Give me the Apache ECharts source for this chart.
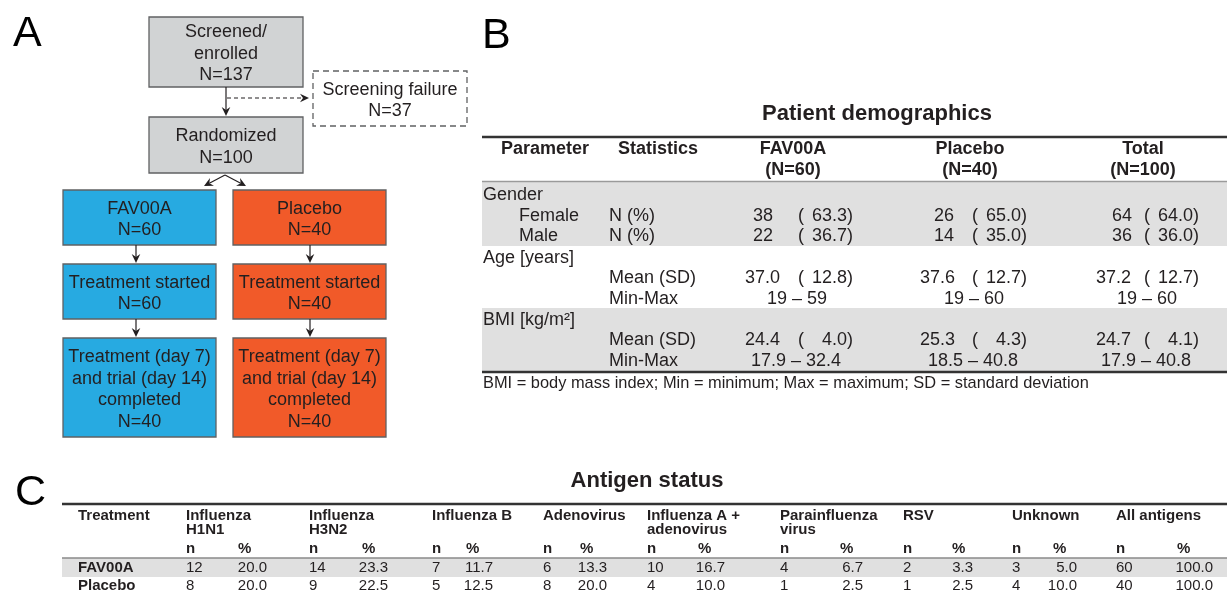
<!DOCTYPE html>
<html>
<head>
<meta charset="utf-8">
<script src="https://cdn.jsdelivr.net/npm/echarts@6/dist/echarts.min.js"></script>
<style>
  html, body { margin: 0; padding: 0; background: #fff; }
  #chart { width: 1227px; height: 594px; }
</style>
</head>
<body>
<div id="chart"></div>
<script>
// ---- data ----
// flow chart (panel A)
const screenedN = 137
const failureN = 37
const randomizedN = 100
const arms = ['FAV00A', 'Placebo']
const armRandomized = [60, 40]
const armStarted = [60, 40]
const armCompleted = [40, 40]

// demographics (panel B)
const demoGroups = ['FAV00A', 'Placebo', 'Total']
const demoN = [60, 40, 100]
const femaleN = [38, 26, 64]
const femalePct = [63.3, 65.0, 64.0]
const maleN = [22, 14, 36]
const malePct = [36.7, 35.0, 36.0]
const ageMean = [37.0, 37.6, 37.2]
const ageSD = [12.8, 12.7, 12.7]
const ageMin = [19, 19, 19]
const ageMax = [59, 60, 60]
const bmiMean = [24.4, 25.3, 24.7]
const bmiSD = [4.0, 4.3, 4.1]
const bmiMin = [17.9, 18.5, 17.9]
const bmiMax = [32.4, 40.8, 40.8]

// antigen status (panel C)
const antigens = [['Influenza', 'H1N1'], ['Influenza', 'H3N2'], ['Influenza B'], ['Adenovirus'],
  ['Influenza A +', 'adenovirus'], ['Parainfluenza', 'virus'], ['RSV'], ['Unknown'], ['All antigens']]
const treatments = ['FAV00A', 'Placebo']
const antigenN = [[12, 14, 7, 6, 10, 4, 2, 3, 60], [8, 9, 5, 8, 4, 1, 1, 4, 40]]
const antigenPct = [[20.0, 23.3, 11.7, 13.3, 16.7, 6.7, 3.3, 5.0, 100.0],
  [20.0, 22.5, 12.5, 20.0, 10.0, 2.5, 2.5, 10.0, 100.0]]

// ---- layout / style ----
const FF = '"Liberation Sans", Arial, Helvetica, sans-serif'
const INK = '#231f20'
const BORDER = '#606163'
const GRAY_BOX = '#d1d3d4'
const ARM_COLORS = ['#27aae1', '#f15a29']
const BAND = '#e0e0e0'

const els = []

function txt(x, y, s, opt) {
  opt = opt || {}
  const size = opt.size || 18
  const align = opt.align || 'center'
  els.push({
    type: 'text', x: x, y: y, silent: true,
    style: {
      text: s,
      font: (opt.bold ? 'bold ' : '') + size + 'px ' + FF,
      fill: opt.color || INK,
      align: align, textAlign: align,
      verticalAlign: 'middle', textVerticalAlign: 'middle'
    }
  })
}
function line(x1, y1, x2, y2, color, w, dash) {
  els.push({
    type: 'line', silent: true,
    shape: { x1: x1, y1: y1, x2: x2, y2: y2 },
    style: { stroke: color, lineWidth: w, lineDash: dash || null }
  })
}
function rect(x, y, w, h, fill, stroke, dash) {
  els.push({
    type: 'rect', silent: true,
    shape: { x: x, y: y, width: w, height: h },
    style: { fill: fill || 'transparent', stroke: stroke || null, lineWidth: stroke ? 1.3 : 0, lineDash: dash || null }
  })
}
// line with a notched (stealth) arrow head at (x2, y2)
function arrow(x1, y1, x2, y2, dash) {
  const ang = Math.atan2(y2 - y1, x2 - x1)
  const L = 9, hw = 4.3, notch = 6
  const cs = Math.cos(ang), sn = Math.sin(ang)
  const bx = x2 - L * cs, by = y2 - L * sn
  const nx = x2 - notch * cs, ny = y2 - notch * sn
  line(x1, y1, nx, ny, INK, 1.2, dash)
  els.push({
    type: 'polygon', silent: true,
    shape: { points: [[x2, y2],
      [bx + hw * sn, by - hw * cs],
      [nx, ny],
      [bx - hw * sn, by + hw * cs]] },
    style: { fill: INK }
  })
}
function box(x, y, w, h, lines, fill, dash) {
  rect(x, y, w, h, fill, BORDER, dash)
  const step = 21.5
  const cy = y + h / 2 + 2
  lines.forEach((s, i) => {
    txt(x + w / 2, cy + (i - (lines.length - 1) / 2) * step, s, { size: 18 })
  })
}

// ---- panel A: flow chart ----
txt(13, 34, 'A', { size: 43, align: 'left', color: '#000' })
box(149, 17, 154, 70, ['Screened/', 'enrolled', 'N=' + screenedN], GRAY_BOX)
box(313, 71, 154, 55, ['Screening failure', 'N=' + failureN], '#fff', [6, 4])
box(149, 117, 154, 56, ['Randomized', 'N=' + randomizedN], GRAY_BOX)
arrow(226, 87, 226, 116)
arrow(227, 98, 309, 98, [4, 3])
arrow(225, 175, 204, 186)
arrow(225, 175, 246, 186)

const armX = [63, 233]
const armArrowX = [136, 310]
arms.forEach((name, i) => {
  const x = armX[i], c = ARM_COLORS[i]
  box(x, 190, 153, 55, [name, 'N=' + armRandomized[i]], c)
  box(x, 264, 153, 55, ['Treatment started', 'N=' + armStarted[i]], c)
  box(x, 338, 153, 99, ['Treatment (day 7)', 'and trial (day 14)', 'completed', 'N=' + armCompleted[i]], c)
  arrow(armArrowX[i], 245, armArrowX[i], 263)
  arrow(armArrowX[i], 319, armArrowX[i], 337)
})

// ---- panel B: patient demographics ----
txt(482, 36, 'B', { size: 43, align: 'left', color: '#000' })
txt(877, 114, 'Patient demographics', { size: 22, bold: true })
rect(482, 182, 745, 64, BAND)
rect(482, 308, 745, 63, BAND)
line(482, 137, 1227, 137, '#333', 2.5)
line(482, 181.5, 1227, 181.5, '#9a9a9a', 1.5)
line(482, 372, 1227, 372, '#333', 2.5)

txt(545, 149, 'Parameter', { bold: true })
txt(658, 149, 'Statistics', { bold: true })
const grpCenter = [793, 970, 1143]
const grpNX = [753, 934, 1112]
const grpMeanX = [745, 920, 1096]
const grpParenX = [798, 972, 1144]
const grpEndX = [853, 1027, 1199]
demoGroups.forEach((g, i) => {
  txt(grpCenter[i], 149, g, { bold: true })
  txt(grpCenter[i], 170, '(N=' + demoN[i] + ')', { bold: true })
})

const rowY = { gender: 195, female: 216, male: 236, age: 258, ageMean: 278, ageRange: 299, bmi: 320, bmiMean: 340, bmiRange: 361 }
txt(483, rowY.gender, 'Gender', { align: 'left' })
txt(519, rowY.female, 'Female', { align: 'left' })
txt(519, rowY.male, 'Male', { align: 'left' })
txt(609, rowY.female, 'N (%)', { align: 'left' })
txt(609, rowY.male, 'N (%)', { align: 'left' })
txt(483, rowY.age, 'Age [years]', { align: 'left' })
txt(609, rowY.ageMean, 'Mean (SD)', { align: 'left' })
txt(609, rowY.ageRange, 'Min-Max', { align: 'left' })
txt(483, rowY.bmi, 'BMI [kg/m²]', { align: 'left' })
txt(609, rowY.bmiMean, 'Mean (SD)', { align: 'left' })
txt(609, rowY.bmiRange, 'Min-Max', { align: 'left' })

function countPct(i, y, n, p) {
  txt(grpNX[i], y, String(n), { align: 'left' })
  txt(grpParenX[i], y, '(', { align: 'left' })
  txt(grpEndX[i], y, p.toFixed(1) + ')', { align: 'right' })
}
function meanSD(i, y, m, sd) {
  txt(grpMeanX[i], y, m.toFixed(1), { align: 'left' })
  txt(grpParenX[i], y, '(', { align: 'left' })
  txt(grpEndX[i], y, sd.toFixed(1) + ')', { align: 'right' })
}
demoGroups.forEach((g, i) => {
  countPct(i, rowY.female, femaleN[i], femalePct[i])
  countPct(i, rowY.male, maleN[i], malePct[i])
  meanSD(i, rowY.ageMean, ageMean[i], ageSD[i])
  txt(grpCenter[i] + 4, rowY.ageRange, ageMin[i] + ' – ' + ageMax[i])
  meanSD(i, rowY.bmiMean, bmiMean[i], bmiSD[i])
  txt(grpCenter[i] + 3, rowY.bmiRange, bmiMin[i].toFixed(1) + ' – ' + bmiMax[i].toFixed(1))
})
txt(483, 383, 'BMI = body mass index; Min = minimum; Max = maximum; SD = standard deviation', { align: 'left', size: 16.4 })

// ---- panel C: antigen status ----
txt(15, 493, 'C', { size: 43, align: 'left', color: '#000' })
txt(647, 481, 'Antigen status', { size: 22, bold: true })
rect(62, 558, 1165, 19, BAND)
line(62, 504, 1227, 504, '#333', 2.5)
line(62, 558, 1227, 558, '#8a8a8a', 1.3)

const agNX = [186, 309, 432, 543, 647, 780, 903, 1012, 1116]
const agPctHeadX = [238, 362, 466, 580, 698, 840, 952, 1053, 1177]
const agPctEndX = [267, 388, 493, 607, 725, 863, 973, 1077, 1213]
const cHead = [516, 530]
const cSub = 549
const cRow = [568, 586]
txt(78, cHead[0], 'Treatment', { size: 15, bold: true, align: 'left' })
antigens.forEach((lab, j) => {
  lab.forEach((s, k) => txt(agNX[j], cHead[k], s, { size: 15, bold: true, align: 'left' }))
  txt(agNX[j], cSub, 'n', { size: 15, bold: true, align: 'left' })
  txt(agPctHeadX[j], cSub, '%', { size: 15, bold: true, align: 'left' })
})
treatments.forEach((t, r) => {
  txt(78, cRow[r], t, { size: 15, bold: true, align: 'left' })
  antigens.forEach((lab, j) => {
    txt(agNX[j], cRow[r], String(antigenN[r][j]), { size: 15, align: 'left' })
    txt(agPctEndX[j], cRow[r], antigenPct[r][j].toFixed(1), { size: 15, align: 'right' })
  })
})

const chart = echarts.init(document.getElementById('chart'), null, { renderer: 'canvas' })
chart.setOption({
  backgroundColor: '#fff',
  animation: false,
  graphic: { elements: els }
})
window.addEventListener('resize', () => chart.resize())
</script>
</body>
</html>
